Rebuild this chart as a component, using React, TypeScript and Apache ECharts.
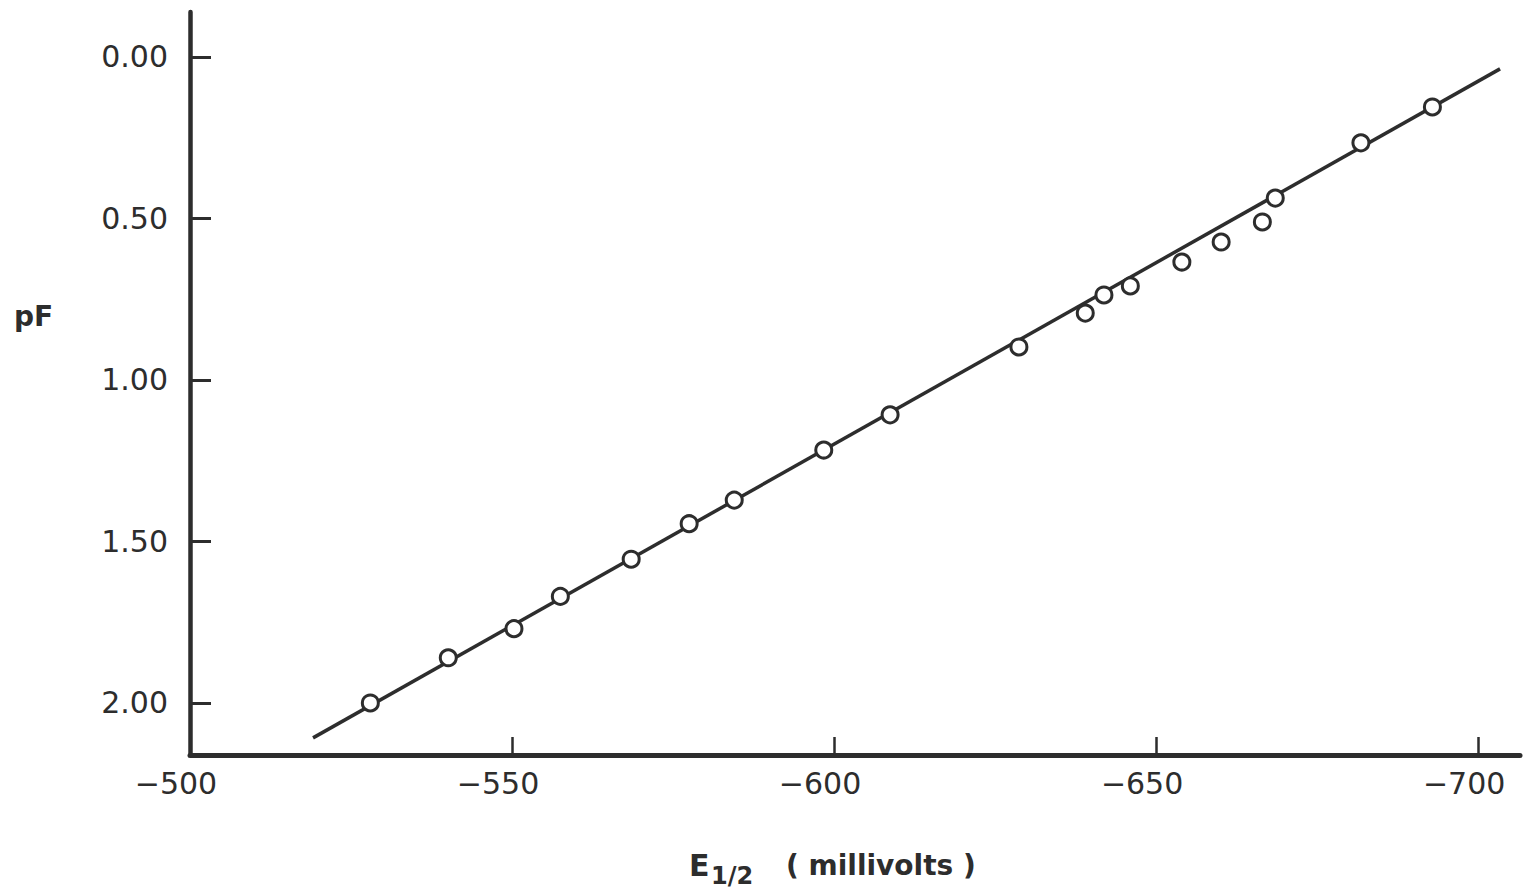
import React, { useEffect, useRef } from "react";
import * as echarts from "echarts";

// Measured data: half-wave potential (mV) vs pF
const e12Values = [
  -528.0, -540.1, -550.3, -557.5, -568.5, -577.5, -584.5, -598.4, -608.7,
  -628.7, -639.0, -641.9, -646.0, -654.0, -660.1, -666.5, -668.5, -681.8, -692.9,
];
const pFValues = [
  2.0, 1.86, 1.77, 1.67, 1.555, 1.445, 1.372, 1.217, 1.108,
  0.898, 0.793, 0.737, 0.709, 0.635, 0.573, 0.511, 0.437, 0.266, 0.155,
];

// Fitted straight line end points
const fitE12 = [-519.1, -703.4];
const fitPF = [2.108, 0.037];

// Axis ticks
const xTickValues = [-500, -550, -600, -650, -700];
const yTickValues = [0, 0.5, 1.0, 1.5, 2.0];

const INK = "#2d2d2d";
const FONT = "'DejaVu Sans', sans-serif";

export default function App() {
  const ref = useRef<HTMLDivElement>(null);

  useEffect(() => {
    if (!ref.current) return;
    const chart = echarts.init(ref.current, undefined, { renderer: "svg" });

    const points = e12Values.map((x, i) => [x, pFValues[i]]);
    const fit = fitE12.map((x, i) => [x, fitPF[i]]);

    chart.setOption({
      animation: false,
      backgroundColor: "#ffffff",
      grid: {
        left: 190,
        top: 12,
        right: 5,
        bottom: 137,
        containLabel: false,
        outerBoundsMode: "none",
      },
      xAxis: {
        type: "value",
        inverse: true,
        min: -706.5,
        max: -500,
        splitLine: { show: false },
        axisLine: {
          onZero: false,
          lineStyle: { color: INK, width: 5, cap: "round" },
        },
        axisTick: {
          inside: true,
          length: 18,
          customValues: xTickValues,
          lineStyle: { color: INK, width: 2.5 },
        },
        axisLabel: {
          customValues: xTickValues,
          formatter: (v: number) => (v < 0 ? "\u2212" : "") + Math.abs(v),
          color: INK,
          fontFamily: FONT,
          fontSize: 30,
          margin: 13,
          padding: [0, 28, 0, 0],
        },
      },
      yAxis: {
        type: "value",
        inverse: true,
        min: -0.139,
        max: 2.161,
        splitLine: { show: false },
        axisLine: {
          onZero: false,
          lineStyle: { color: INK, width: 4.5, cap: "round" },
        },
        axisTick: {
          inside: true,
          length: 21,
          customValues: yTickValues,
          lineStyle: { color: INK, width: 3 },
        },
        axisLabel: {
          customValues: yTickValues,
          formatter: (v: number) => v.toFixed(2),
          color: INK,
          fontFamily: FONT,
          fontSize: 30,
          margin: 22,
        },
      },
      graphic: [
        {
          type: "text",
          x: 14,
          y: 316,
          style: {
            text: "pF",
            fill: INK,
            font: `bold 28px ${FONT}`,
            verticalAlign: "middle",
            align: "left",
          },
        },
        {
          type: "text",
          x: 689,
          y: 865,
          style: {
            text: "E",
            fill: INK,
            font: `bold 30px ${FONT}`,
            verticalAlign: "middle",
            align: "left",
          },
        },
        {
          type: "text",
          x: 711,
          y: 876,
          style: {
            text: "1/2",
            fill: INK,
            font: `bold 24px ${FONT}`,
            verticalAlign: "middle",
            align: "left",
          },
        },
        {
          type: "text",
          x: 786,
          y: 865,
          style: {
            text: "( millivolts )",
            fill: INK,
            font: `bold 28px ${FONT}`,
            verticalAlign: "middle",
            align: "left",
          },
        },
      ],
      series: [
        {
          type: "line",
          data: fit,
          symbol: "none",
          silent: true,
          z: 2,
          lineStyle: { color: INK, width: 3.5 },
        },
        {
          type: "scatter",
          data: points,
          symbol: "circle",
          symbolSize: 16,
          z: 3,
          itemStyle: {
            color: "#ffffff",
            borderColor: INK,
            borderWidth: 3,
            opacity: 1,
          },
        },
      ],
    });

    return () => chart.dispose();
  }, []);

  return (
    <div
      ref={ref}
      style={{ position: "fixed", left: 0, top: 0, width: 1525, height: 892 }}
    />
  );
}
